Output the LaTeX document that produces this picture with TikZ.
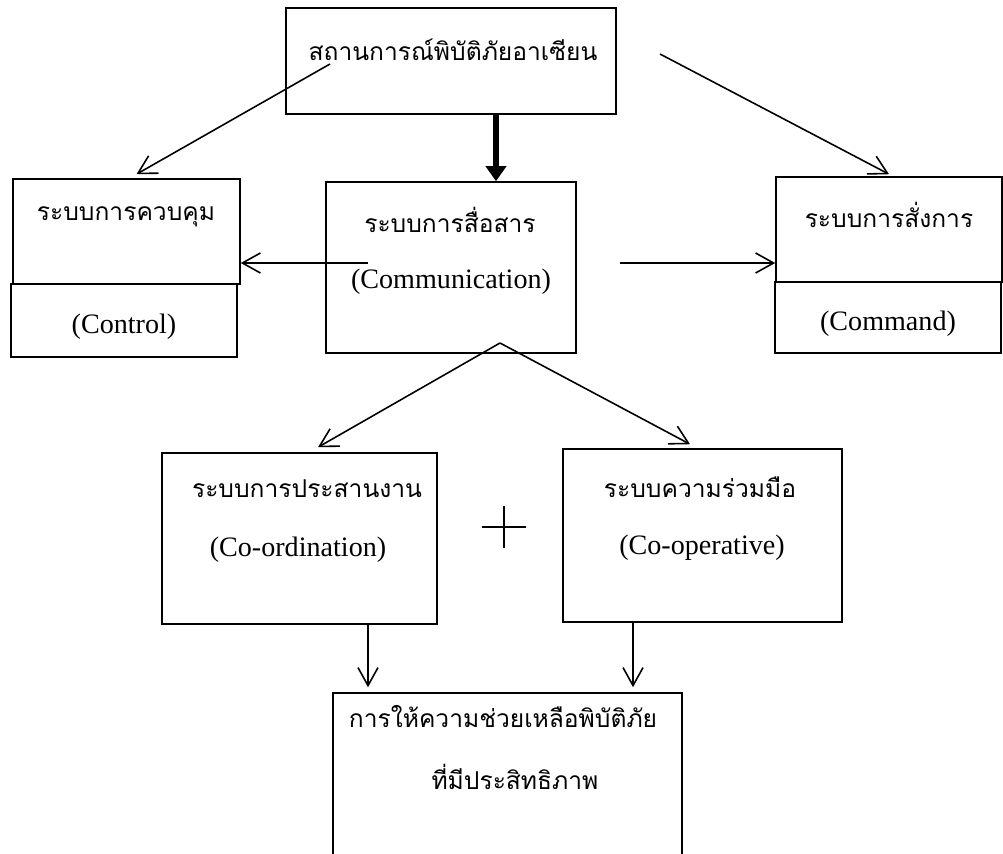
\documentclass[tikz,border=0pt]{standalone}
\usepackage{fontspec}
\setmainfont{Liberation Serif}
\newfontfamily\thaifont[Script=Thai]{Loma}
\usetikzlibrary{arrows.meta}

\tikzset{
  box/.style={draw, line width=0.9pt, inner sep=0pt},
  th/.style={font=\thaifont\fontsize{14}{17}\selectfont},
  en/.style={font=\fontsize{16}{19}\selectfont},
}

\begin{document}
\begin{tikzpicture}[x=0.02cm, y=-0.02cm, line width=0.9pt,
    >={Straight Barb[length=0.36cm, width=0.4cm]}]
    \clip (0,0) rectangle (1003,854);

    % Boxes
    \node[box, minimum width=6.6cm, minimum height=2.12cm] (asean) at (451,61) {};
    \node[box, minimum width=4.54cm, minimum height=2.1cm] (ctrl) at (126.5,231.5) {};
    \node[box, minimum width=4.52cm, minimum height=1.46cm] (ctrlb) at (124,320.5) {};
    \node[box, minimum width=5cm, minimum height=3.42cm] (comm) at (451,267.5) {};
    \node[box, minimum width=4.52cm, minimum height=2.1cm] (cmd) at (889,229.5) {};
    \node[box, minimum width=4.52cm, minimum height=1.42cm] (cmdb) at (888,317.5) {};
    \node[box, minimum width=5.5cm, minimum height=3.42cm] (coord) at (299.5,538.5) {};
    \node[box, minimum width=5.58cm, minimum height=3.46cm] (coop) at (702.5,535.5) {};
    \node[box, minimum width=6.98cm, minimum height=4.14cm] (result) at (507.5,796.5) {};

    % Texts
    \node[th] (t1) at (453,50) {สถานการณ์พิบัติภัยอาเซียน};
    \node[th] (t2) at (126,217) {ระบบการควบคุม};
    \node[en] (t3) at (124,327) {(Control)};
    \node[th] (t4) at (450,220) {ระบบการสื่อสาร};
    \node[en] (t5) at (451,282) {(Communication)};
    \node[th] (t6) at (889,215) {ระบบการสั่งการ};
    \node[en] (t7) at (888,324) {(Command)};
    \node[th] (t8) at (307,489) {ระบบการประสานงาน};
    \node[en] (t9) at (298,550) {(Co-ordination)};
    \node[th] (t10) at (700,487) {ระบบความร่วมมือ};
    \node[en] (t11) at (702,548) {(Co-operative)};
    \node[th] (t12) at (503,717) {การให้ความช่วยเหลือพิบัติภัย};
    \node[th] (t13) at (515,777) {ที่มีประสิทธิภาพ};

    % Plus sign
    \draw (482,527) -- (526,527) (504,506) -- (504,548);

    % Arrows from the top box
    \coordinate (a1) at (330,64);
    \coordinate (a2) at (660,54);
    \draw[->] (a1) -- ([xshift=0.2cm, yshift=0.08cm]ctrl.north);
    \draw[->] (a2) -- ([yshift=0.04cm]cmd.north);
    \draw[line width=3.4pt, -{Triangle[length=0.3cm, width=0.4cm]}]
        ([xshift=0.9cm]asean.south) -- ([xshift=0.9cm]comm.north);

    % Arrows from communication
    \coordinate (c1) at (368,263);
    \coordinate (c2) at (620,263);
    \draw[->] (c1) -- (c1 -| ctrl.east);
    \draw[->] (c2) -- (c2 -| cmd.west);
    \coordinate (apex) at (500,343);
    \draw[->] (apex) -- ([xshift=0.37cm, yshift=0.1cm]coord.north);
    \draw[->] (apex) -- ([xshift=-0.25cm, yshift=0.08cm]coop.north);

    % Arrows to the result
    \coordinate (d1) at ([xshift=1.37cm]coord.south);
    \coordinate (d2) at ([xshift=-1.39cm]coop.south);
    \draw[->, shorten >=0.1cm] (d1) -- (d1 |- result.north);
    \draw[->, shorten >=0.1cm] (d2) -- (d2 |- result.north);
\end{tikzpicture}
\end{document}
